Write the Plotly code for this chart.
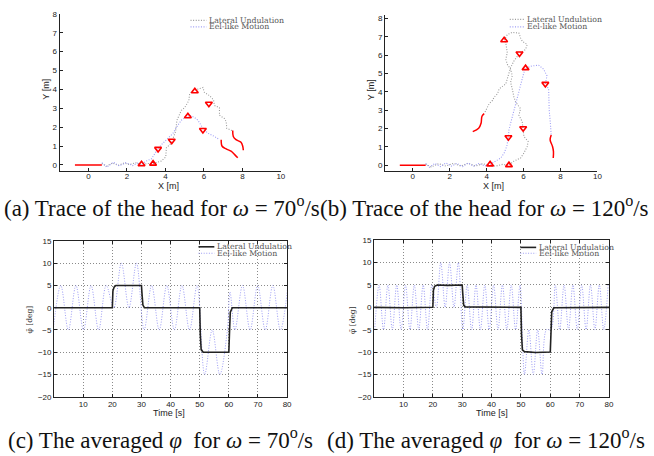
import plotly.graph_objects as go

W, H = 654, 456
def px(x): return x / W
def py(y): return 1 - y / H

# ---------------- (a) omega = 70 deg/s : head traces ----------------
A_LU_X = [0.70, 0.95, 1.25, 1.55, 1.85, 2.15, 2.45, 2.75, 3.05, 3.36, 3.79, 4.02, 4.05, 4.31, 4.53, 4.60,
          4.83, 5.00, 5.22, 5.26, 5.43, 5.78, 5.95, 6.03, 6.29, 6.50, 6.55, 6.81, 6.81, 7.07, 7.16, 7.19, 7.46]
A_LU_Y = [0.08, -0.06, 0.10, -0.02, 0.10, 0.02, 0.12, 0.00, 0.08, 0.07, 0.21, 0.42, 0.90, 1.16, 1.77, 2.37,
          2.89, 3.03, 3.41, 3.76, 3.93, 4.07, 4.10, 3.84, 3.67, 3.45, 3.15, 3.03, 2.63, 2.46, 2.29, 1.94, 1.82]
A_EEL_X = [0.70, 0.95, 1.30, 1.60, 1.95, 2.30, 2.55, 2.76, 3.02, 3.28, 3.53, 3.79, 4.14, 4.40, 4.60, 4.83,
           5.09, 5.26, 5.52, 5.69, 5.95, 6.21, 6.55, 6.81]
A_EEL_Y = [0.12, -0.12, 0.15, -0.05, 0.12, -0.03, 0.10, 0.04, 0.21, 0.33, 0.73, 1.07, 1.42, 1.68, 2.03, 2.37,
           2.55, 2.63, 2.51, 2.37, 1.94, 1.68, 1.51, 1.34]
A_START_X = [-0.70, 0.70]
A_START_Y = [0.0, 0.0]
A_BODY_LU_X = [7.50, 7.53, 7.67, 7.93, 8.02, 8.05]
A_BODY_LU_Y = [1.82, 1.51, 1.34, 1.20, 0.99, 0.78]
A_BODY_EEL_X = [6.90, 6.95, 7.16, 7.41, 7.59, 7.76]
A_BODY_EEL_Y = [1.34, 0.99, 0.85, 0.73, 0.56, 0.38]
A_UP_X = [2.76, 3.36, 5.17, 5.53]
A_UP_Y = [0.04, 0.07, 2.58, 3.90]
A_DOWN_X = [3.62, 4.33, 5.95, 6.26]
A_DOWN_Y = [0.85, 1.28, 1.85, 3.24]

# ---------------- (b) omega = 120 deg/s : head traces ----------------
B_LU_X = [0.70, 1.00, 1.40, 1.80, 2.20, 2.60, 3.00, 3.40, 3.80, 4.20, 4.50, 4.86, 5.21, 5.48, 5.84, 6.02,
          6.20, 6.25, 6.02, 5.98, 5.93, 5.75, 5.84, 5.57, 5.48, 5.39, 5.30, 5.39, 5.30, 5.12, 5.04, 5.12,
          5.04, 4.95, 5.12, 5.39, 5.75, 5.84, 5.93, 6.20, 6.11, 5.78, 5.48, 5.30, 5.21, 5.12, 5.04, 4.68,
          4.59, 4.41, 4.32, 4.14, 4.05, 3.87]
B_LU_Y = [0.05, -0.10, 0.08, -0.05, 0.10, -0.05, 0.10, -0.05, 0.08, -0.05, -0.05, 0.04, 0.00, 0.22, 0.39, 0.66,
          1.02, 1.29, 1.56, 2.01, 2.37, 2.72, 3.08, 3.44, 3.71, 4.16, 4.52, 4.87, 5.23, 5.50, 5.77, 6.13,
          6.67, 6.81, 7.12, 7.24, 7.20, 6.94, 6.76, 6.58, 6.31, 6.09, 5.68, 5.32, 5.05, 4.69, 4.43, 4.16,
          3.89, 3.71, 3.53, 3.35, 3.17, 2.81]
B_EEL_X = [0.70, 0.90, 1.20, 1.50, 1.80, 2.10, 2.40, 2.70, 3.00, 3.30, 3.60, 3.90, 4.19, 4.50, 4.77, 4.95,
           5.09, 5.18, 5.21, 5.30, 5.39, 5.48, 5.57, 5.66, 5.75, 5.84, 5.93, 6.02, 6.11, 6.46, 6.82, 7.09,
           7.27, 7.18, 7.36, 7.36, 7.39, 7.44, 7.46, 7.50]
B_EEL_Y = [0.10, -0.12, 0.10, -0.08, 0.12, -0.05, 0.10, -0.08, 0.12, -0.05, 0.10, -0.05, 0.04, 0.22, 0.39, 0.66,
           1.02, 1.52, 1.92, 2.28, 2.63, 2.99, 3.35, 3.71, 3.98, 4.34, 4.69, 5.05, 5.29, 5.41, 5.45, 5.23,
           4.87, 4.43, 4.16, 3.53, 2.99, 2.46, 2.01, 1.65]
B_START_X = [-0.70, 0.70]
B_START_Y = [0.0, 0.0]
B_BODY_LU_X = [3.87, 3.75, 3.70, 3.57, 3.25]
B_BODY_LU_Y = [2.81, 2.67, 2.28, 2.01, 1.83]
B_BODY_EEL_X = [7.50, 7.44, 7.57, 7.62, 7.61]
B_BODY_EEL_Y = [1.65, 1.38, 1.02, 0.75, 0.39]
B_UP_X = [4.19, 5.21, 4.95, 6.11]
B_UP_Y = [0.04, 0.00, 6.81, 5.29]
B_DOWN_X = [5.18, 5.98, 5.78, 7.18]
B_DOWN_Y = [1.52, 2.01, 6.09, 4.43]

# ---------------- (c) averaged phi, omega = 70 deg/s ----------------
C_LU_T = [0, 20, 20.2, 20.6, 21.2, 30, 30.2, 30.5, 31.0, 50, 50.2, 50.5, 51.2, 60, 60.2, 60.5, 61.2, 80]
C_LU_V = [0, 0, 3.8, 4.6, 5.0, 5.0, 3.0, 0.6, 0.0, 0.0, -6.0, -9.4, -10.0, -10.0, -6.0, -1.0, 0.0, 0.0]
C_EEL_T = [-0.3, 2.3, 4.9, 7.5, 10.1, 12.7, 15.3, 17.9, 20.5, 23.1, 25.7, 28.3, 30.9, 33.5, 36.1, 38.7,
           41.3, 43.9, 46.5, 49.1, 51.7, 54.3, 56.9, 59.5, 60.4, 62.1, 64.7, 67.3, 69.9, 72.5, 75.1, 77.7, 80.3]
C_EEL_V = [-5, 5, -5, 5, -5, 5, -5, 5, 0, 10, 0, 10, -5, 5, -5, 5,
           -5, 5, -5, 5, -15, -5, -15, -5, 3.5, -5, 5, -5, 5, -5, 5, -5, 5]

# ---------------- (d) averaged phi, omega = 120 deg/s ----------------
D_LU_T = [0, 10, 20, 20.2, 20.6, 21.5, 25, 30, 30.2, 30.5, 31.0, 40, 50, 50.2, 50.5, 51.2, 55, 60, 60.2, 60.5, 61.2, 70, 80]
D_LU_V = [0, -0.1, 0, 3.8, 4.7, 5.0, 4.9, 5.0, 3.0, 0.5, 0.1, 0.0, 0.0, -6.0, -9.5, -9.9, -10.1, -10.0, -6.0, -1.0, -0.1, 0.0, 0.0]
D_EEL_T = [0.2, 1.7, 3.2, 4.7, 6.2, 7.7, 9.2, 10.7, 12.2, 13.7, 15.2, 16.7, 18.2, 19.7, 21.2, 22.7, 24.2, 25.7,
           27.2, 28.7, 30.2, 31.7, 33.2, 34.7, 36.2, 37.7, 39.2, 40.7, 42.2, 43.7, 45.2, 46.7, 48.2, 49.7,
           51.2, 52.7, 54.2, 55.7, 57.2, 58.7, 60.2, 61.7, 63.2, 64.7, 66.2, 67.7, 69.2, 70.7, 72.2, 73.7,
           75.2, 76.7, 78.2, 79.7]
D_EEL_V = [-5, 5, -5, 5, -5, 5, -5, 5, -5, 5, -5, 5, -5, 5, 0, 10, 0, 10,
           0, 10, -5, 5, -5, 5, -5, 5, -5, 5, -5, 5, -5, 5, -5, 5,
           -15, -5, -15, -5, -15, -5, -5, 5, -5, 5, -5, 5, -5, 5, -5, 5,
           -5, 5, -5, 5]

TICK_X_TOP = [0, 2, 4, 6, 8, 10]
TICK_Y_TOP = [0, 1, 2, 3, 4, 5, 6, 7, 8]
TICK_X_BOT = [10, 20, 30, 40, 50, 60, 70, 80]
TICK_Y_BOT = [-20, -15, -10, -5, 0, 5, 10, 15]

LEG_LU = "Lateral Undulation"
LEG_EEL = "Eel-like Motion"

GRAY = "#9a9a9a"
BLUE = "#9c9cf4"
RED = "#ff0000"
DOT = "1px,1.6px"

fig = go.Figure()

def trace_panel(xa, ya, lux, luy, eelx, eely, sx, sy, blx, bly, bex, bey, ux, uy, dx, dy):
    fig.add_trace(go.Scatter(x=lux, y=luy, mode="lines", line=dict(color=GRAY, width=1.1, dash=DOT),
                             xaxis=xa, yaxis=ya, showlegend=False))
    fig.add_trace(go.Scatter(x=eelx, y=eely, mode="lines", line=dict(color=BLUE, width=1.1, dash=DOT),
                             xaxis=xa, yaxis=ya, showlegend=False))
    for bx, by in ((sx, sy), (blx, bly), (bex, bey)):
        fig.add_trace(go.Scatter(x=bx, y=by, mode="lines", line=dict(color=RED, width=1.5, shape="spline"),
                                 xaxis=xa, yaxis=ya, showlegend=False))
    fig.add_trace(go.Scatter(x=ux, y=uy, mode="markers",
                             marker=dict(symbol="triangle-up-open", size=6, color=RED, line=dict(width=1.6, color=RED)),
                             xaxis=xa, yaxis=ya, showlegend=False))
    fig.add_trace(go.Scatter(x=dx, y=dy, mode="markers",
                             marker=dict(symbol="triangle-down-open", size=6, color=RED, line=dict(width=1.6, color=RED)),
                             xaxis=xa, yaxis=ya, showlegend=False))

trace_panel("x", "y", A_LU_X, A_LU_Y, A_EEL_X, A_EEL_Y, A_START_X, A_START_Y,
            A_BODY_LU_X, A_BODY_LU_Y, A_BODY_EEL_X, A_BODY_EEL_Y, A_UP_X, A_UP_Y, A_DOWN_X, A_DOWN_Y)
trace_panel("x2", "y2", B_LU_X, B_LU_Y, B_EEL_X, B_EEL_Y, B_START_X, B_START_Y,
            B_BODY_LU_X, B_BODY_LU_Y, B_BODY_EEL_X, B_BODY_EEL_Y, B_UP_X, B_UP_Y, B_DOWN_X, B_DOWN_Y)

def phi_panel(xa, ya, lut, luv, et, ev):
    fig.add_trace(go.Scatter(x=et, y=ev, mode="lines", line=dict(color=BLUE, width=1, dash=DOT, shape="spline", smoothing=1.0),
                             xaxis=xa, yaxis=ya, showlegend=False))
    fig.add_trace(go.Scatter(x=lut, y=luv, mode="lines", line=dict(color="#222222", width=1.6),
                             xaxis=xa, yaxis=ya, showlegend=False))

phi_panel("x3", "y3", C_LU_T, C_LU_V, C_EEL_T, C_EEL_V)
phi_panel("x4", "y4", D_LU_T, D_LU_V, D_EEL_T, D_EEL_V)

tickfont = dict(family="Liberation Sans, Arial", size=8, color="#222")

def top_axes(dx, dy, yr):
    xa = dict(domain=dx, range=[-1.5, 10], tickvals=TICK_X_TOP, ticks="inside", ticklen=3, tickcolor="#222",
              showline=True, linecolor="#222", linewidth=1, mirror=False, showgrid=False, zeroline=False,
              tickfont=tickfont, fixedrange=True, ticklabelstandoff=-2)
    ya = dict(domain=dy, range=yr, tickvals=TICK_Y_TOP, ticks="inside", ticklen=3, tickcolor="#222",
              showline=True, linecolor="#222", linewidth=1, mirror=False, showgrid=False, zeroline=False,
              tickfont=tickfont, fixedrange=True)
    return xa, ya

def bot_axes(dx, dy):
    xa = dict(domain=dx, range=[0, 80], tickvals=TICK_X_BOT, ticks="inside", ticklen=3, tickcolor="#222",
              showline=True, linecolor="#222", linewidth=1, mirror="ticks", showgrid=True,
              gridcolor="#8a8a8a", griddash="1px,2px", gridwidth=1, zeroline=False, tickfont=tickfont, fixedrange=True)
    ya = dict(domain=dy, range=[-20, 15], tickvals=TICK_Y_BOT, ticks="inside", ticklen=3, tickcolor="#222",
              showline=True, linecolor="#222", linewidth=1, mirror="ticks", showgrid=True,
              gridcolor="#8a8a8a", griddash="1px,2px", gridwidth=1, zeroline=False, tickfont=tickfont, fixedrange=True)
    return xa, ya

xa1, ya1 = top_axes([px(60), px(283)], [py(170), py(10)], [-0.3, 8])
xa2, ya2 = top_axes([px(388), px(602)], [py(170), py(11)], [-0.3, 8.2])
xa3, ya3 = bot_axes([px(54.5), px(289.3)], [py(400.7), py(241.7)])
xa4, ya4 = bot_axes([px(377), px(613.7)], [py(400.7), py(241)])
xa1["anchor"] = "y"; ya1["anchor"] = "x"
xa2["anchor"] = "y2"; ya2["anchor"] = "x2"
xa3["anchor"] = "y3"; ya3["anchor"] = "x3"
xa4["anchor"] = "y4"; ya4["anchor"] = "x4"

ann = []
shapes = []
labfont = dict(family="Liberation Sans, Arial", size=9, color="#222")
def label(x, y, text, angle=0, font=labfont):
    ann.append(dict(x=px(x), y=py(y), xref="paper", yref="paper", text=text, showarrow=False,
                    textangle=angle, font=font, xanchor="center", yanchor="middle"))

label(46.7, 87, "Y [m]", -90)
label(170, 185.5, "X [m]")
label(373.7, 87, "Y [m]", -90)
label(497, 185.5, "X [m]")
label(170.7, 417, "Time [s]")
label(495.3, 417, "Time [s]")
phifont = dict(family="DejaVu Serif, Liberation Serif", size=7.5, color="#333")
label(30, 322, "φ̄ [deg]", -90, phifont)
label(355, 322, "φ̄ [deg]", -90, phifont)

legfont = dict(family="DejaVu Serif, Liberation Serif", size=7.8, color="#555")
def legend(x0, x1, y1, y2, c1, d1, c2, d2, w1):
    shapes.append(dict(type="line", xref="paper", yref="paper", x0=px(x0), x1=px(x1), y0=py(y1), y1=py(y1),
                       line=dict(color=c1, width=w1, dash=d1)))
    shapes.append(dict(type="line", xref="paper", yref="paper", x0=px(x0), x1=px(x1), y0=py(y2), y1=py(y2),
                       line=dict(color=c2, width=1.1, dash=d2)))
    for yy, t in ((y1, LEG_LU), (y2, LEG_EEL)):
        ann.append(dict(x=px(x1 + 0.5), y=py(yy), xref="paper", yref="paper", text=t, showarrow=False,
                        font=legfont, xanchor="left", yanchor="middle"))

legend(192, 208, 16.7, 23.3, GRAY, DOT, BLUE, DOT, 1.1)
legend(513.7, 528.7, 15.7, 23.3, GRAY, DOT, BLUE, DOT, 1.1)
legend(200, 216, 247.7, 254.3, "#222", "solid", BLUE, DOT, 1.6)
legend(524.3, 540.3, 248.3, 254.3, "#222", "solid", BLUE, DOT, 1.6)

capfont = dict(family="Liberation Serif, Times New Roman", size=23, color="#111")
def caption(x, y, text):
    ann.append(dict(x=px(x), y=py(y), xref="paper", yref="paper", text=text, showarrow=False,
                    font=capfont, xanchor="center", yanchor="middle"))

caption(163, 207, "(a) Trace of the head for <i>ω</i> = 70<sup>o</sup>/s")
caption(488, 207, "(b) Trace of the head for <i>ω</i> = 120<sup>o</sup>/s")
caption(162, 443, "(c) The averaged <i>φ</i>  for <i>ω</i> = 70<sup>o</sup>/s")
caption(490, 443, "(d) The averaged <i>φ</i>  for <i>ω</i> = 120<sup>o</sup>/s")

fig.update_layout(width=W, height=H, margin=dict(l=0, r=0, t=0, b=0),
                  paper_bgcolor="white", plot_bgcolor="white", showlegend=False,
                  xaxis=xa1, yaxis=ya1, xaxis2=xa2, yaxis2=ya2, xaxis3=xa3, yaxis3=ya3, xaxis4=xa4, yaxis4=ya4,
                  annotations=ann, shapes=shapes)

fig.write_html("out.html", config={"displayModeBar": False},
               post_script="document.documentElement.style.margin='0';document.body.style.margin='0';"
                           "document.body.style.overflow='hidden';")
